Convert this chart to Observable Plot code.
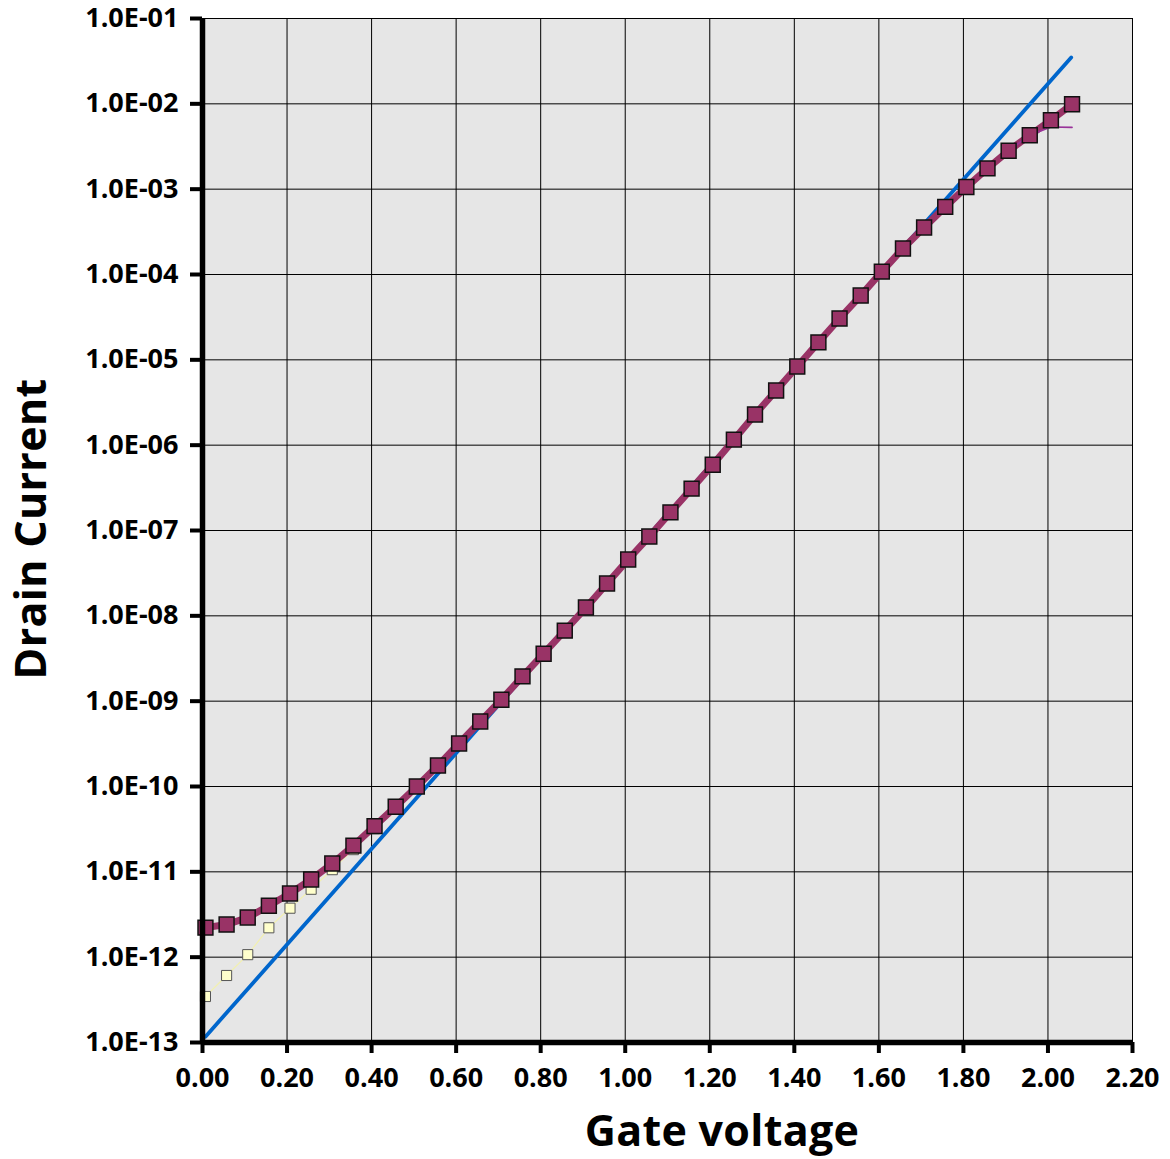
<!DOCTYPE html>
<html><head><meta charset="utf-8">
<script src="https://cdn.jsdelivr.net/npm/d3@7"></script>
<script src="https://cdn.jsdelivr.net/npm/@observablehq/plot@0.6"></script>
<style>
html,body{margin:0;padding:0;background:#fff;}
#chart svg{display:block;}
</style>
</head><body><div id="chart"></div>
<script>
// Gate voltage (V) for each measured point
const gateV = [0.007,0.057,0.107,0.157,0.207,0.257,0.307,0.357,0.407,0.457,0.507,0.557,0.607,0.657,0.707,0.757,0.807,0.857,0.907,0.957,1.007,1.057,1.107,1.157,1.207,1.257,1.307,1.357,1.407,1.457,1.507,1.557,1.607,1.657,1.707,1.757,1.807,1.857,1.907,1.957,2.007,2.057];
// Measured drain current (purple series)
const drainI = [2.22e-12,2.41e-12,2.92e-12,4.0e-12,5.57e-12,8.13e-12,1.25e-11,2.03e-11,3.43e-11,5.8e-11,1.0e-10,1.76e-10,3.19e-10,5.77e-10,1.04e-9,1.95e-9,3.6e-9,6.7e-9,1.25e-8,2.39e-8,4.57e-8,8.5e-8,1.63e-7,3.1e-7,5.9e-7,1.16e-6,2.29e-6,4.37e-6,8.36e-6,1.6e-5,3.05e-5,5.67e-5,1.08e-4,2.02e-4,3.56e-4,6.2e-4,1.06e-3,1.75e-3,2.82e-3,4.29e-3,6.43e-3,9.9e-3];
// Leakage-corrected current (pale yellow series), low-voltage part
const corrV = [0.007,0.057,0.107,0.157,0.207,0.257,0.307,0.357,0.407,0.457,0.507];
const corrI = [3.46e-13,6.1e-13,1.07e-12,2.21e-12,3.75e-12,6.25e-12,1.06e-11,1.82e-11,3.2e-11,5.6e-11,9.8e-11];
// Thin model line near the top end
const modelV = [1.907,1.957,2.007,2.057];
const modelI = [2.82e-3,4.29e-3,5.35e-3,5.3e-3];
// Exponential (subthreshold) fit line endpoints
const fitV = [0.007,2.055];
const fitI = [1.17e-13,3.5e-2];
// Axis ticks and labels
const xTicks = [0,0.2,0.4,0.6,0.8,1.0,1.2,1.4,1.6,1.8,2.0,2.2];
const xTickLabels = ["0.00","0.20","0.40","0.60","0.80","1.00","1.20","1.40","1.60","1.80","2.00","2.20"];
const yTicks = [1e-13,1e-12,1e-11,1e-10,1e-9,1e-8,1e-7,1e-6,1e-5,1e-4,1e-3,1e-2,1e-1];
const yTickLabels = ["1.0E-13","1.0E-12","1.0E-11","1.0E-10","1.0E-09","1.0E-08","1.0E-07","1.0E-06","1.0E-05","1.0E-04","1.0E-03","1.0E-02","1.0E-01"];
const xTitle = "Gate voltage";
const yTitle = "Drain Current";

const measured = gateV.map((v,i)=>({v, I: drainI[i]}));
const corrected = corrV.map((v,i)=>({v, I: corrI[i]}));
const model = modelV.map((v,i)=>({v, I: modelI[i]}));
const fit = fitV.map((v,i)=>({v, I: fitI[i]}));

const xLabelOf = d => { const i = xTicks.findIndex(t => Math.abs(t - d) < 1e-9); return i >= 0 ? xTickLabels[i] : ""; };
const yLabelOf = d => { const i = yTicks.findIndex(t => Math.abs(Math.log10(t) - Math.log10(d)) < 1e-6); return i >= 0 ? yTickLabels[i] : ""; };

const chart = Plot.plot({
  width: 1170, height: 1159,
  marginLeft: 202, marginRight: 38, marginTop: 18, marginBottom: 117,
  style: {fontFamily: "'Open Sans', sans-serif", fontSize: "27px", fontWeight: "bold", background: "#fff", color: "#000"},
  x: {domain: [0, 2.2]},
  y: {type: "log", domain: [1e-13, 1e-1]},
  marks: [
    Plot.frame({fill: "#e6e6e6", stroke: "none"}),
    Plot.gridX(xTicks, {stroke: "#000", strokeOpacity: 1, strokeWidth: 1}),
    Plot.gridY(yTicks, {stroke: "#000", strokeOpacity: 1, strokeWidth: 1}),
    Plot.line(fit, {x: "v", y: "I", stroke: "#0066cc", strokeWidth: 3.8}),
    Plot.line(corrected, {x: "v", y: "I", stroke: "#f2f0b0", strokeWidth: 1.2}),
    Plot.dot(corrected, {x: "v", y: "I", symbol: "square", r: 5.7, fill: "#ffffcc", stroke: "#555", strokeWidth: 1}),
    Plot.line(measured, {x: "v", y: "I", stroke: "#993366", strokeWidth: 7}),
    Plot.line(model, {x: "v", y: "I", stroke: "#993399", strokeWidth: 1.6}),
    Plot.dot(measured, {x: "v", y: "I", symbol: "square", r: 8.4, fill: "#993366", stroke: "#111", strokeWidth: 1.5}),
    Plot.ruleX([0], {stroke: "#000", strokeWidth: 5.5}),
    Plot.ruleY([1e-13], {stroke: "#000", strokeWidth: 5.5}),
    Plot.axisX(xTicks, {tickSize: 11, tickPadding: 14, strokeWidth: 4, tickFormat: xLabelOf, label: null, fontSize: 27, fontWeight: "bold"}),
    Plot.axisY(yTicks, {tickSize: 12, tickPadding: 12, strokeWidth: 4, tickFormat: yLabelOf, label: null, fontSize: 27, fontWeight: "bold"})
  ]
});
document.getElementById("chart").appendChild(chart);

const svg = d3.select(chart);
svg.append("text")
  .attr("x", 722).attr("y", 1146)
  .attr("text-anchor", "middle")
  .style("font-family", "'Open Sans', sans-serif")
  .style("font-size", "43px").style("font-weight", "bold").style("letter-spacing", "0.3px")
  .attr("fill", "#000")
  .text(xTitle);
svg.append("text")
  .attr("transform", "translate(46,529) rotate(-90)")
  .attr("text-anchor", "middle")
  .style("font-family", "'Open Sans', sans-serif")
  .style("font-size", "43px").style("font-weight", "bold").style("letter-spacing", "0.3px")
  .attr("fill", "#000")
  .text(yTitle);
</script>
</body></html>
